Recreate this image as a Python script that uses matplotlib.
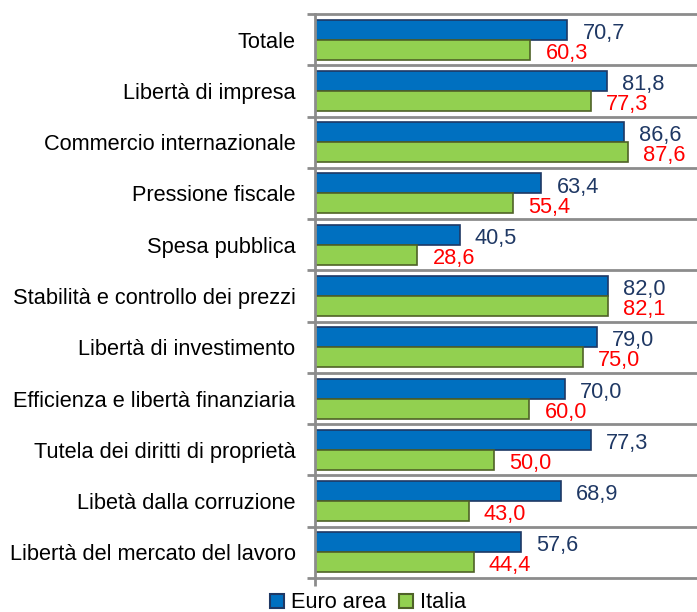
import matplotlib
matplotlib.use("Agg")
import matplotlib.pyplot as plt
from matplotlib.patches import Patch
import numpy as np

categories = ["Totale", "Libertà di impresa", "Commercio internazionale", "Pressione fiscale",
              "Spesa pubblica", "Stabilità e controllo dei prezzi", "Libertà di investimento",
              "Efficienza e libertà finanziaria", "Tutela dei diritti di proprietà",
              "Libetà dalla corruzione", "Libertà del mercato del lavoro"]
euro_area = [70.7, 81.8, 86.6, 63.4, 40.5, 82.0, 79.0, 70.0, 77.3, 68.9, 57.6]
italia = [60.3, 77.3, 87.6, 55.4, 28.6, 82.1, 75.0, 60.0, 50.0, 43.0, 44.4]
series_names = ["Euro area", "Italia"]

plt.rcParams['font.family'] = ['Liberation Sans', 'DejaVu Sans']
FS = 15.7
blue, blue_edge = "#0070C0", "#1F3864"
green, green_edge = "#92D050", "#4F6228"
grid_c = "#8C8C8C"

fig = plt.figure(figsize=(6.97, 6.12), dpi=100)
ax = fig.add_axes([315/697, 1-578/612, 1-315/697, (578-14)/612])

y = np.arange(len(categories))
h = 0.39
off = 0.195
ax.barh(y - off, euro_area, height=h, color=blue, edgecolor=blue_edge, linewidth=1.2, zorder=3)
ax.barh(y + off, italia, height=h, color=green, edgecolor=green_edge, linewidth=1.2, zorder=3)

def fmt(v):
    return f"{v:.1f}".replace(".", ",")

for yi, v in zip(y, euro_area):
    ax.annotate(fmt(v), (v, yi - off + 0.07), xytext=(11, 0), textcoords="offset points",
                va="center", ha="left", fontsize=FS, color=blue_edge)
for yi, v in zip(y, italia):
    ax.annotate(fmt(v), (v, yi + off + 0.07), xytext=(11, 0), textcoords="offset points",
                va="center", ha="left", fontsize=FS, color="#FF0000")

ax.set_xlim(0, 107)
ax.set_ylim(len(categories) - 0.5, -0.5)
ax.set_yticks(y)
ax.set_yticklabels(categories, fontsize=FS)
ax.set_yticks(np.arange(-0.5, len(categories)), minor=True)
ax.tick_params(axis="y", which="major", length=0, pad=14)
ax.tick_params(axis="y", which="minor", length=6, width=2, color=grid_c)
ax.set_xticks([0])
ax.set_xticklabels([""])
ax.tick_params(axis="x", length=6, width=2, color=grid_c)

for b in np.arange(-0.5, len(categories)):
    ax.axhline(b, color=grid_c, linewidth=2, zorder=1, clip_on=False)

for s in ["top", "right", "bottom"]:
    ax.spines[s].set_visible(False)
ax.spines["left"].set_color(grid_c)
ax.spines["left"].set_linewidth(2)
ax.spines["left"].set_zorder(4)

handles = [Patch(facecolor=blue, edgecolor=blue_edge, linewidth=1.5),
           Patch(facecolor=green, edgecolor=green_edge, linewidth=1.5)]
fig.legend(handles, series_names, loc="center", bbox_to_anchor=(368/697, 1-603/612),
           ncol=2, frameon=False, fontsize=FS, handlelength=0.65, handleheight=0.65,
           handletextpad=0.3, columnspacing=0.6, borderaxespad=0)

fig.savefig("out.png", dpi=100)
